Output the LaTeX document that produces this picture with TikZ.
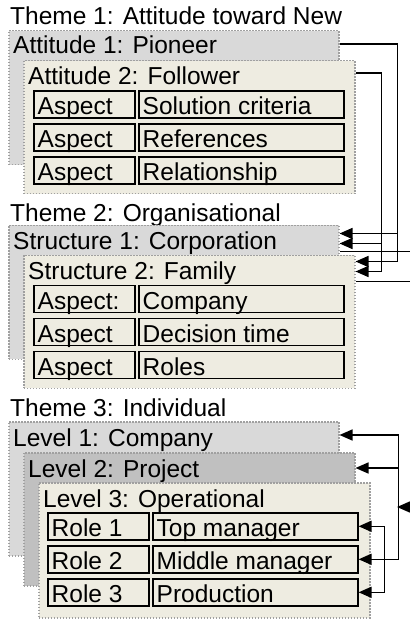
\documentclass[tikz,border=0pt]{standalone}
\usepackage{fontspec}
\setmainfont{Liberation Sans}
\usetikzlibrary{arrows.meta,calc}
\definecolor{beige}{HTML}{EEECE1}
\definecolor{lgray}{HTML}{D9D9D9}
\definecolor{mgray}{HTML}{C0C0C0}
\definecolor{dotc}{HTML}{A0A0A0}
\tikzset{
 panel/.style={draw=dotc, dash pattern=on 1.5pt off 1.5pt, line width=1.5pt, anchor=north west, minimum width=330pt, minimum height=134pt, inner sep=0pt},
 cellbox/.style={draw=black, line width=1.6pt, fill=beige, anchor=north west, minimum height=27pt, inner sep=0pt},
 lcell/.style={cellbox, minimum width=101pt},
 rcell/.style={cellbox, minimum width=205pt},
 txt/.style={anchor=base west, inner sep=0pt, font=\fontsize{24.5}{26}\selectfont},
 conn/.style={line width=1.5pt},
 arr/.style={conn, -{Triangle[length=13pt,width=11pt]}},
}
\newcommand\myrow[5]{%
 \node[lcell] (#1l) at (#2,#3) {};
 \node[txt] at ($(#1l.south west)+(4.5,-4)$) {#4};
 \node[rcell] (#1r) at ($(#2,#3)+(105,0)$) {};
 \node[txt] at ($(#1r.south west)+(4.5,-4)$) {#5};
}
\begin{document}
\begin{tikzpicture}[x=1pt,y=-1pt]
\useasboundingbox (0,0) rectangle (409,620);
% Section 1
\node[txt] (t1) at (10,25) {Theme 1: Attitude toward New};
\node[panel, fill=lgray] (A1) at (8,30) {};
\node[txt] (A1t) at ($(A1.north west)+(5,24)$) {Attitude 1: Pioneer};
\node[panel, fill=beige, minimum width=331pt, minimum height=133pt] (A2) at (23,60) {};
\node[txt] (A2t) at ($(A2.north west)+(5,25)$) {Attitude 2: Follower};
\myrow{a1}{33}{90}{Aspect}{Solution criteria}
\myrow{a2}{33}{123}{Aspect}{References}
\myrow{a3}{33}{156}{Aspect}{Relationship}
% Section 2
\node[txt] (t2) at (10,222) {Theme 2: Organisational};
\node[panel, fill=lgray] (S1) at (8,224.5) {};
\node[txt] (S1t) at ($(S1.north west)+(5,25)$) {Structure 1: Corporation};
\node[panel, fill=beige, minimum width=331pt, minimum height=133pt] (S2) at (23,254.5) {};
\node[txt] (S2t) at ($(S2.north west)+(5,25)$) {Structure 2: Family};
\myrow{s1}{33}{284.5}{Aspect:}{Company}
\myrow{s2}{33}{317.5}{Aspect}{Decision time}
\myrow{s3}{33}{350.5}{Aspect}{Roles}
% Section 3
\node[txt] (t3) at (10,416.5) {Theme 3: Individual};
\node[panel, fill=lgray] (L1) at (8,421) {};
\node[txt] (L1t) at ($(L1.north west)+(5,25.5)$) {Level 1: Company};
\node[panel, fill=mgray, minimum width=331pt, minimum height=133pt] (L2) at (23,452) {};
\node[txt] (L2t) at ($(L2.north west)+(5,25.5)$) {Level 2: Project};
\node[panel, fill=beige, minimum width=331pt, minimum height=135pt] (L3) at (38,482) {};
\node[txt] (L3t) at ($(L3.north west)+(5,25.5)$) {Level 3: Operational};
\myrow{b1}{47}{512}{Role 1}{Top manager}
\myrow{b2}{47}{545}{Role 2}{Middle manager}
\myrow{b3}{47}{578}{Role 3}{Production}
% ports
\coordinate (A1o) at ($(A1.north east)+(0,14)$);
\coordinate (A2o) at ($(A2.north east)+(0,13)$);
\coordinate (S1i1) at ($(S1.north east)+(0,9)$);
\coordinate (S1i2) at ($(S1.north east)+(0,19)$);
\coordinate (S1o) at ($(S1.north east)+(0,27)$);
\coordinate (S2i1) at ($(S2.north east)+(0,7)$);
\coordinate (S2i2) at ($(S2.north east)+(0,17)$);
\coordinate (S2o) at ($(S2.north east)+(0,27)$);
\coordinate (L1i) at ($(L1.north east)+(0,14)$);
\coordinate (L2i) at ($(L2.north east)+(0,16)$);
\coordinate (inR) at (409,507);
\coordinate (inV) at (397,507);
% connectors section 1 -> 2
\draw[arr] (A1o) -| ($(S2i1)+(42,0)$) -- (S2i1);
\draw[arr] ($(S1i1)+(58,0)$) -- (S1i1);
\draw[arr] (A2o) -| ($(S2i2)+(26,0)$) -- (S2i2);
\draw[arr] ($(S1i2)+(42,0)$) -- (S1i2);
\draw[conn] (S1o) -- ++(75,0);
\draw[conn] (S2o) -- ++(60,0);
% connectors section 3
\draw[arr] ($(b2r.east)+(40,0)$) |- (L1i);
\draw[arr] ($(b2r.east)+(40,0)$) -- (b2r.east);
\draw[arr] ($(L2i)+(43,0)$) -- (L2i);
\draw[arr] ($(b3r.east)+(26,0)$) |- (b1r.east);
\draw[arr] ($(b3r.east)+(26,0)$) -- (b3r.east);
\draw[arr] (inR) -- (inV);
\end{tikzpicture}
\end{document}
